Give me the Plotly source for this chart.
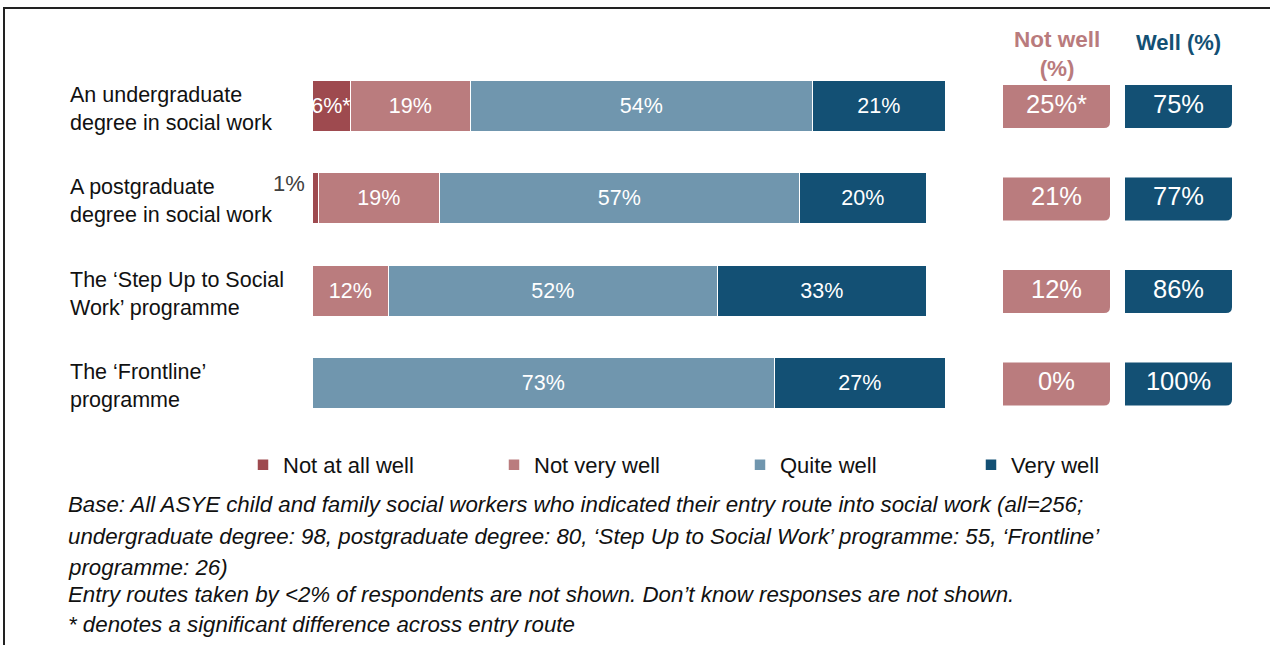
import plotly.graph_objects as go

# ---------------- data ----------------
categories = [
    "An undergraduate<br>degree in social work",
    "A postgraduate<br>degree in social work",
    "The ‘Step Up to Social<br>Work’ programme",
    "The ‘Frontline’<br>programme",
]
series_names = ["Not at all well", "Not very well", "Quite well", "Very well"]
not_at_all_well = [6, 1, 0, 0]
not_very_well = [19, 19, 12, 0]
quite_well = [54, 57, 52, 73]
very_well = [21, 20, 33, 27]
# significance markers on labels
not_at_all_sig = ["*", "", "", ""]
not_well_pct = [25, 21, 12, 0]
not_well_sig = ["*", "", "", ""]
well_pct = [75, 77, 86, 100]

colors = ["#9E4A4F", "#BA7C7E", "#7096AE", "#135074"]

W, H = 1270, 645
FONT = "Arial, 'Liberation Sans', sans-serif"

rows = list(range(len(categories)))

def px_x(p):
    return p / W

def px_y(p):
    return 1 - p / H

fig = go.Figure()

legend_ids = ["legend", "legend2", "legend3", "legend4"]
legend_text_x = [283, 534, 780, 1011]

series_vals = [not_at_all_well, not_very_well, quite_well, very_well]
for i, (name, vals) in enumerate(zip(series_names, series_vals)):
    texts = []
    for j, v in enumerate(vals):
        if i == 0:
            # small first segment: 6%* inside, 1% shown outside as annotation
            texts.append(f"{v}%{not_at_all_sig[j]}" if v >= 5 else "")
        else:
            texts.append(f"{v}%" if v > 0 else "")
    fig.add_trace(go.Bar(
        name=name, y=rows, x=vals, orientation="h", width=0.55,
        marker=dict(color=colors[i], line=dict(color="white", width=1.5)),
        text=texts, textposition="inside", insidetextanchor="middle",
        constraintext="none", textangle=0,
        textfont=dict(color="white", size=21.5, family=FONT),
        xaxis="x", yaxis="y", legend=legend_ids[i],
    ))

# small outside label(s) for the first segment
for j, v in enumerate(not_at_all_well):
    if 0 < v < 5:
        fig.add_annotation(x=0, y=rows[j], xref="x", yref="y", text=f"{v}%",
                           showarrow=False, xanchor="right", xshift=-6, yshift=16,
                           font=dict(size=22, color="#404040", family=FONT))

# ---------------- summary boxes (Not well / Well) ----------------
box_w, box_h = 0.877, 0.465
rx, ry = 6 / 122, 6 / 92.5
for col, (vals, sig, colr) in enumerate([(not_well_pct, not_well_sig, colors[1]),
                                         (well_pct, ["", "", "", ""], colors[3])]):
    for j, v in enumerate(vals):
        x0, x1 = col - box_w / 2, col + box_w / 2
        y0, y1 = rows[j] - box_h / 2, rows[j] + box_h / 2
        path = (f"M {x0},{y0} L {x1},{y0} L {x1},{y1 - ry} "
                f"Q {x1},{y1} {x1 - rx},{y1} L {x0},{y1} Z")
        fig.add_shape(type="path", path=path, xref="x2", yref="y",
                      fillcolor=colr, line=dict(width=0), layer="below")
    fig.add_trace(go.Scatter(
        x=[col] * len(vals), y=rows, mode="text",
        text=[f"{v}%{s}" for v, s in zip(vals, sig)],
        textfont=dict(color="white", size=25.5, family=FONT),
        xaxis="x2", yaxis="y", showlegend=False, hoverinfo="skip",
    ))

# headers
fig.add_annotation(x=0, y=px_y(54), xref="x2", yref="paper", text="<b>Not well<br>(%)</b>",
                   showarrow=False, font=dict(size=22.5, color="#B97B7D", family=FONT),
                   align="center", yanchor="middle")
fig.add_annotation(x=1, y=px_y(42), xref="x2", yref="paper", text="<b>Well (%)</b>",
                   showarrow=False, font=dict(size=22, color="#135074", family=FONT),
                   yanchor="middle")

# category labels (left aligned)
for j, c in enumerate(categories):
    fig.add_annotation(x=px_x(68), y=rows[j], xref="paper", yref="y", text=c,
                       showarrow=False, xanchor="left", align="left", yshift=-2,
                       font=dict(size=21.5, color="#111111", family=FONT))

# footnotes
notes = [
    "Base: All ASYE child and family social workers who indicated their entry route into social work (all=256;",
    "undergraduate degree: 98, postgraduate degree: 80, ‘Step Up to Social Work’ programme: 55, ‘Frontline’",
    "programme: 26)",
    "Entry routes taken by &lt;2% of respondents are not shown. Don’t know responses are not shown.",
    "* denotes a significant difference across entry route",
]
note_y = [505, 536, 567, 594, 624]
for t, yy in zip(notes, note_y):
    fig.add_annotation(x=px_x(66), y=px_y(yy), xref="paper", yref="paper",
                       text=f"<i>{t}</i>", showarrow=False, xanchor="left",
                       yanchor="middle", font=dict(size=22.3, color="#111111", family=FONT))

# frame
fig.add_shape(type="rect", xref="paper", yref="paper",
              x0=px_x(4), x1=1.02, y0=-0.02, y1=px_y(8),
              line=dict(color="#222222", width=2), fillcolor="rgba(0,0,0,0)")

legend_common = dict(orientation="h", yanchor="middle", xanchor="left",
                     font=dict(size=22, color="#111111", family=FONT), itemwidth=30,
                     bgcolor="rgba(0,0,0,0)")
legend_layout = {}
for lid, tx in zip(legend_ids, legend_text_x):
    legend_layout[lid] = dict(x=px_x(tx - 40), y=px_y(465), **legend_common)

top_px, bottom_px = 60.25, 430.25
fig.update_layout(
    width=W, height=H,
    margin=dict(l=0, r=0, t=0, b=0),
    paper_bgcolor="white", plot_bgcolor="white",
    barmode="stack", bargap=0,
    font=dict(family=FONT, size=19, color="#111111"),
    xaxis=dict(domain=[px_x(313), px_x(946)], range=[0, 100], visible=False, fixedrange=True),
    xaxis2=dict(domain=[px_x(995.5), px_x(1239.5)], range=[-0.5, 1.5], visible=False,
                anchor="y", fixedrange=True),
    yaxis=dict(domain=[px_y(bottom_px), px_y(top_px)], range=[len(rows) - 0.5, -0.5],
               visible=False, fixedrange=True),
    showlegend=True,
    **legend_layout,
)

fig.write_html("out.html", config={"displayModeBar": False},
               post_script="document.body.style.margin='0px';")
